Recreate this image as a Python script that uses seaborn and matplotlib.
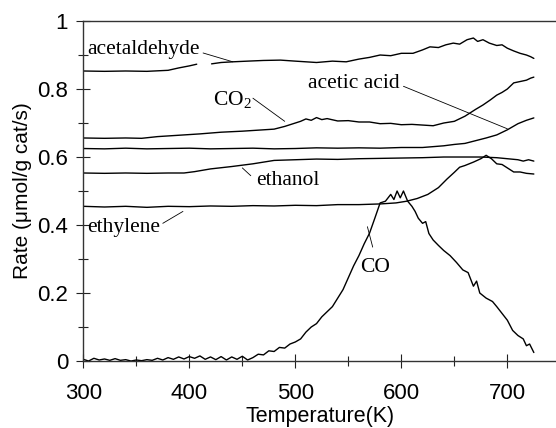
import numpy as np
import pandas as pd
import matplotlib
matplotlib.use("Agg")
import matplotlib.pyplot as plt
import seaborn as sns

# ---------------- data ----------------
co_T = [300, 305, 310, 315, 320, 325, 330, 335, 340, 345, 350, 355, 360, 365, 370, 375,
        380, 385, 390, 395, 400, 405, 410, 415, 420, 425, 430, 435, 440, 445, 450, 455,
        460, 465, 470, 475, 480, 485, 490, 495, 500, 505, 510, 515, 520, 525, 530, 535,
        540, 545, 550, 555, 560, 565, 570, 575, 580, 585, 590, 593, 596, 599, 602, 606,
        610, 613, 616, 620, 623, 626, 630, 635, 640, 646, 652, 658, 663, 668, 671, 674,
        680, 686, 690, 695, 700, 705, 710, 715, 718, 721, 725]
co_v = [0.005, 0.0, 0.008, 0.003, 0.006, 0.002, 0.007, 0.002, 0.004, 0.0, 0.003, 0.001,
        0.004, 0.002, 0.008, 0.003, 0.010, 0.005, 0.012, 0.006, 0.013, 0.008, 0.015, 0.005,
        0.012, 0.004, 0.013, 0.003, 0.012, 0.005, 0.014, 0.003, 0.010, 0.020, 0.018, 0.030,
        0.028, 0.040, 0.038, 0.050, 0.056, 0.065, 0.085, 0.100, 0.110, 0.130, 0.145, 0.160,
        0.185, 0.210, 0.245, 0.280, 0.310, 0.345, 0.376, 0.420, 0.465, 0.470, 0.490, 0.475,
        0.500, 0.480, 0.500, 0.470, 0.455, 0.440, 0.420, 0.405, 0.410, 0.375, 0.356, 0.340,
        0.325, 0.310, 0.290, 0.268, 0.260, 0.220, 0.235, 0.200, 0.185, 0.175, 0.160, 0.140,
        0.120, 0.090, 0.075, 0.065, 0.045, 0.050, 0.025]

ethylene_T = [300, 320, 340, 360, 380, 400, 420, 440, 460, 480, 500, 520, 540, 560, 580,
              595, 605, 615, 625, 635, 643, 650, 655, 660, 668, 675, 680, 685, 690, 695,
              700, 706, 712, 718, 725]
ethylene_v = [0.455, 0.453, 0.455, 0.452, 0.455, 0.454, 0.456, 0.455, 0.457, 0.456, 0.458,
              0.457, 0.460, 0.460, 0.462, 0.465, 0.470, 0.478, 0.490, 0.510, 0.535, 0.555,
              0.570, 0.575, 0.585, 0.595, 0.605, 0.595, 0.580, 0.578, 0.568, 0.556, 0.556,
              0.552, 0.550]

ethanol_T = [300, 320, 340, 360, 380, 395, 405, 420, 440, 460, 480, 500, 520, 540, 560,
             580, 600, 620, 640, 660, 675, 690, 700, 710, 715, 720, 725]
ethanol_v = [0.553, 0.552, 0.553, 0.552, 0.553, 0.553, 0.557, 0.565, 0.572, 0.580, 0.590,
             0.592, 0.594, 0.593, 0.595, 0.596, 0.597, 0.598, 0.600, 0.600, 0.600, 0.598,
             0.595, 0.592, 0.588, 0.592, 0.588]

acetic_T = [300, 320, 340, 360, 380, 400, 420, 440, 460, 480, 500, 520, 540, 560, 580,
            600, 620, 640, 650, 660, 670, 680, 690, 700, 710, 718, 725]
acetic_v = [0.625, 0.624, 0.626, 0.624, 0.625, 0.626, 0.624, 0.625, 0.626, 0.624, 0.625,
            0.627, 0.626, 0.627, 0.626, 0.628, 0.628, 0.633, 0.637, 0.640, 0.648, 0.656,
            0.665, 0.680, 0.698, 0.708, 0.715]

co2_T = [300, 320, 340, 355, 370, 390, 410, 430, 450, 470, 480, 490, 500, 505, 510, 515,
         520, 525, 530, 540, 550, 560, 570, 580, 590, 600, 610, 620, 630, 640, 650, 660,
         665, 670, 677, 684, 690, 695, 700, 706, 712, 718, 722, 725]
co2_v = [0.656, 0.655, 0.656, 0.655, 0.660, 0.664, 0.668, 0.673, 0.676, 0.680, 0.682,
         0.690, 0.700, 0.705, 0.712, 0.708, 0.716, 0.710, 0.713, 0.706, 0.707, 0.703,
         0.703, 0.698, 0.699, 0.695, 0.696, 0.694, 0.692, 0.700, 0.705, 0.720, 0.730,
         0.740, 0.753, 0.768, 0.782, 0.790, 0.800, 0.818, 0.822, 0.826, 0.832, 0.835]

acetal1_T = [300, 320, 340, 360, 380, 390, 400, 407]
acetal1_v = [0.853, 0.852, 0.853, 0.852, 0.855, 0.862, 0.868, 0.873]
acetal2_T = [421, 430, 441, 455, 470, 486, 500, 520, 535, 548, 560, 570, 580, 590, 600,
             611, 620, 627, 635, 642, 649, 655, 662, 668, 672, 677, 683, 690, 695, 700,
             706, 712, 718, 722, 725]
acetal2_v = [0.874, 0.878, 0.880, 0.882, 0.884, 0.885, 0.882, 0.878, 0.882, 0.880, 0.888,
             0.893, 0.900, 0.898, 0.905, 0.905, 0.915, 0.924, 0.922, 0.930, 0.935, 0.932,
             0.945, 0.950, 0.940, 0.945, 0.935, 0.928, 0.930, 0.920, 0.912, 0.905, 0.900,
             0.895, 0.890]

x_ticks = [300, 400, 500, 600, 700]
y_ticks = [0, 0.2, 0.4, 0.6, 0.8, 1]
y_tick_labels = ["0", "0.2", "0.4", "0.6", "0.8", "1"]

labels = ["acetaldehyde", "CO$_2$", "acetic acid", "ethanol", "ethylene", "CO"]

# ---------------- build long table ----------------
segs = [("CO", co_T, co_v), ("ethylene", ethylene_T, ethylene_v),
        ("ethanol", ethanol_T, ethanol_v), ("acetic", acetic_T, acetic_v),
        ("CO2", co2_T, co2_v), ("acetal_a", acetal1_T, acetal1_v),
        ("acetal_b", acetal2_T, acetal2_v)]
frames = []
for name, T, v in segs:
    frames.append(pd.DataFrame({"T": T, "rate": v, "seg": name}))
df = pd.concat(frames, ignore_index=True)

# ---------------- plot ----------------
sns.set_theme(style="ticks")
plt.rcParams['font.family'] = ['Liberation Sans', 'DejaVu Sans']
plt.rcParams['font.sans-serif'] = ['Liberation Sans', 'DejaVu Sans']
plt.rcParams['mathtext.fontset'] = 'custom'
plt.rcParams['mathtext.rm'] = 'Liberation Serif'
plt.rcParams['mathtext.it'] = 'Liberation Serif:italic'

fig = plt.figure(figsize=(5.56, 4.28), dpi=100)
ax = fig.add_axes([0.1498, 0.1565, 0.8502, 0.7944])

sns.lineplot(data=df, x="T", y="rate", units="seg", estimator=None, sort=False,
             color="black", linewidth=1.0, ax=ax, legend=False)

ax.set_xlim(300, 745.9)
ax.set_ylim(0, 1)
ax.set_xticks(x_ticks)
ax.set_yticks(y_ticks)
ax.set_yticklabels(y_tick_labels)
ax.set_xticks([350, 450, 550, 650], minor=True)
ax.set_yticks([0.1, 0.3, 0.5, 0.7, 0.9], minor=True)
ax.tick_params(which="major", direction="inout", length=10, width=0.8,
               labelsize=16, colors="#222222")
ax.tick_params(axis="x", which="major", pad=10.5)
ax.tick_params(axis="y", which="major", pad=6)
ax.tick_params(which="minor", direction="inout", length=7, width=0.8, colors="#222222")
ax.tick_params(axis="both", labelcolor="black")
for s in ["left", "bottom", "top"]:
    ax.spines[s].set_color("#333333")
    ax.spines[s].set_linewidth(1.0)
ax.spines["right"].set_visible(False)

ax.set_xlabel("Temperature(K)", fontsize=15.5, labelpad=1.5, color="black")
ax.set_ylabel("Rate (μmol/g cat/s)", fontsize=15, labelpad=4, color="black")

serif = ['Liberation Serif', 'DejaVu Serif']
ann = [
    (labels[0], 303.6, 0.915, 413, 0.906, 441, 0.880),
    (labels[1], 422, 0.768, 460, 0.773, 490, 0.705),
    (labels[2], 512, 0.817, 602, 0.808, 700, 0.683),
    (labels[3], 463, 0.532, 458, 0.545, 450, 0.568),
    (labels[4], 303.6, 0.394, 375, 0.405, 394, 0.440),
    (labels[5], 561, 0.274, 573, 0.335, 568, 0.395),
]
for txt, tx, ty, sx, sy, ex, ey in ann:
    ax.text(tx, ty, txt, family=serif, fontsize=15.5, ha="left", va="center",
            color="black")
    ax.plot([sx, ex], [sy, ey], color="black", linewidth=0.6)

fig.savefig("out.png", dpi=100)
